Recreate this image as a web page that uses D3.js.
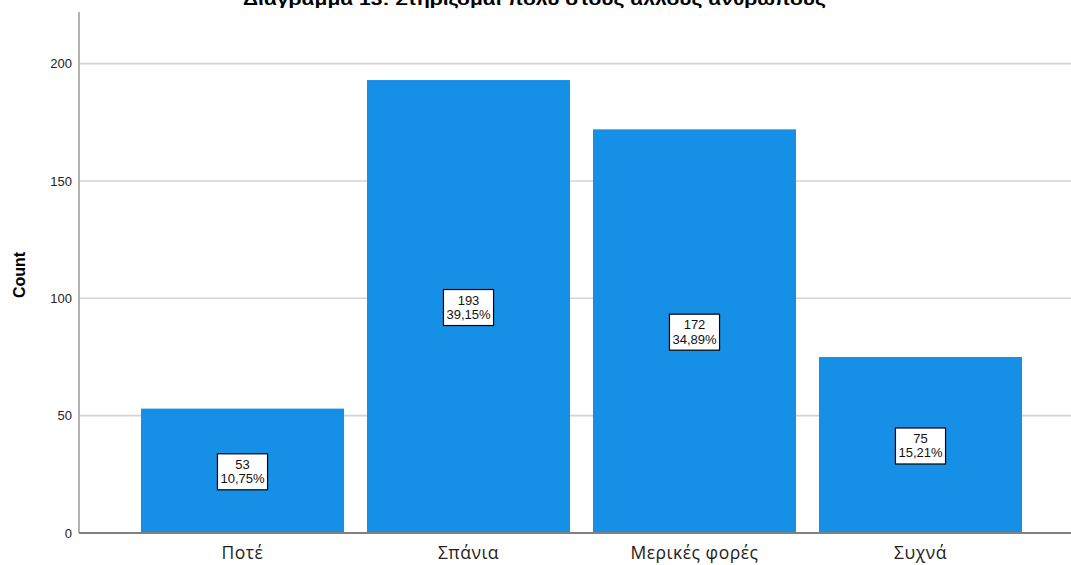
<!DOCTYPE html>
<html>
<head>
<meta charset="utf-8">
<script src="https://cdn.jsdelivr.net/npm/d3@7"></script>
<style>
  html, body { margin: 0; padding: 0; background: #fff; }
  svg { display: block; font-family: "Liberation Sans", Arial, sans-serif; }
  .cat { font-family: "Open Sans", "Segoe UI", "Noto Sans", sans-serif; }
</style>
</head>
<body>
<svg id="chart" width="1071" height="565"></svg>
<script>
// Answers to "Στηρίζομαι πολύ στους άλλους ανθρώπους"
const categories = ["Ποτέ", "Σπάνια", "Μερικές φορές", "Συχνά"];
const counts = [53, 193, 172, 75];
const percentLabels = ["10,75%", "39,15%", "34,89%", "15,21%"];
const yTicks = [0, 50, 100, 150, 200];
const titleText = "Διάγραμμα 13: Στηρίζομαι πολύ στους άλλους ανθρώπους";
const yAxisTitle = "Count";

const svg = d3.select("#chart");
const plot = { left: 79, right: 1071, top: 12, bottom: 533 };

const y = d3.scaleLinear().domain([0, 222]).range([plot.bottom, plot.top]);
const x = d3.scaleBand()
  .domain(categories)
  .range([129.5, 1033.5])
  .paddingInner(0.1016)
  .paddingOuter(0.0508);

// Gridlines
svg.append("g")
  .selectAll("line")
  .data(yTicks.filter(d => d > 0))
  .join("line")
  .attr("x1", plot.left).attr("x2", plot.right)
  .attr("y1", d => y(d)).attr("y2", d => y(d))
  .attr("stroke", "#d4d4d4").attr("stroke-width", 1.6);

// Bars
svg.append("g")
  .selectAll("rect")
  .data(categories)
  .join("rect")
  .attr("x", d => x(d))
  .attr("width", x.bandwidth())
  .attr("y", (d, i) => y(counts[i]))
  .attr("height", (d, i) => y(0) - y(counts[i]))
  .attr("fill", "#1590e6");

// Axis lines
svg.append("line")
  .attr("x1", plot.left).attr("x2", plot.left)
  .attr("y1", plot.top).attr("y2", plot.bottom)
  .attr("stroke", "#a0a0a0").attr("stroke-width", 1.6);
svg.append("line")
  .attr("x1", plot.left).attr("x2", plot.right)
  .attr("y1", plot.bottom).attr("y2", plot.bottom)
  .attr("stroke", "#808080").attr("stroke-width", 1.8);

// Y tick labels
svg.append("g")
  .selectAll("text")
  .data(yTicks)
  .join("text")
  .attr("x", 72)
  .attr("y", d => y(d))
  .attr("dy", "0.35em")
  .attr("text-anchor", "end")
  .attr("font-size", 13)
  .attr("fill", "#222")
  .text(d => d);

// X category labels
svg.append("g")
  .selectAll("text")
  .data(categories)
  .join("text")
  .attr("class", "cat")
  .attr("x", d => x(d) + x.bandwidth() / 2)
  .attr("y", 559)
  .attr("text-anchor", "middle")
  .attr("font-size", 17.5)
  .attr("letter-spacing", 0.5)
  .attr("fill", "#222")
  .text(d => d);

// Y axis title
svg.append("text")
  .attr("transform", "translate(25,275) rotate(-90)")
  .attr("text-anchor", "middle")
  .attr("font-size", 16)
  .attr("font-weight", "bold")
  .attr("fill", "#000")
  .text(yAxisTitle);

// Chart title (runs past the top edge)
svg.append("text")
  .attr("x", 534.5)
  .attr("y", 5)
  .attr("text-anchor", "middle")
  .attr("font-size", 17)
  .attr("font-weight", "bold")
  .attr("textLength", 583)
  .attr("lengthAdjust", "spacingAndGlyphs")
  .attr("fill", "#000")
  .text(titleText);

// Boxed value labels: count and percentage
const labels = svg.append("g")
  .selectAll("g")
  .data(categories)
  .join("g")
  .attr("transform", (d, i) => `translate(${x(d) + x.bandwidth() / 2},${(y(counts[i]) + y(0)) / 2})`);

labels.each(function (d, i) {
  const g = d3.select(this);
  const t1 = g.append("text").attr("y", -2).attr("text-anchor", "middle")
    .attr("font-size", 13).attr("fill", "#111").text(counts[i]);
  const t2 = g.append("text").attr("y", 12.5).attr("text-anchor", "middle")
    .attr("font-size", 13).attr("fill", "#111").text(percentLabels[i]);
  const w = Math.max(t1.node().getComputedTextLength(), t2.node().getComputedTextLength()) + 6;
  g.insert("rect", "text")
    .attr("x", -w / 2).attr("y", -17)
    .attr("width", w).attr("height", 36)
    .attr("fill", "#fff").attr("stroke", "#000").attr("stroke-width", 1.2);
});
</script>
</body>
</html>
